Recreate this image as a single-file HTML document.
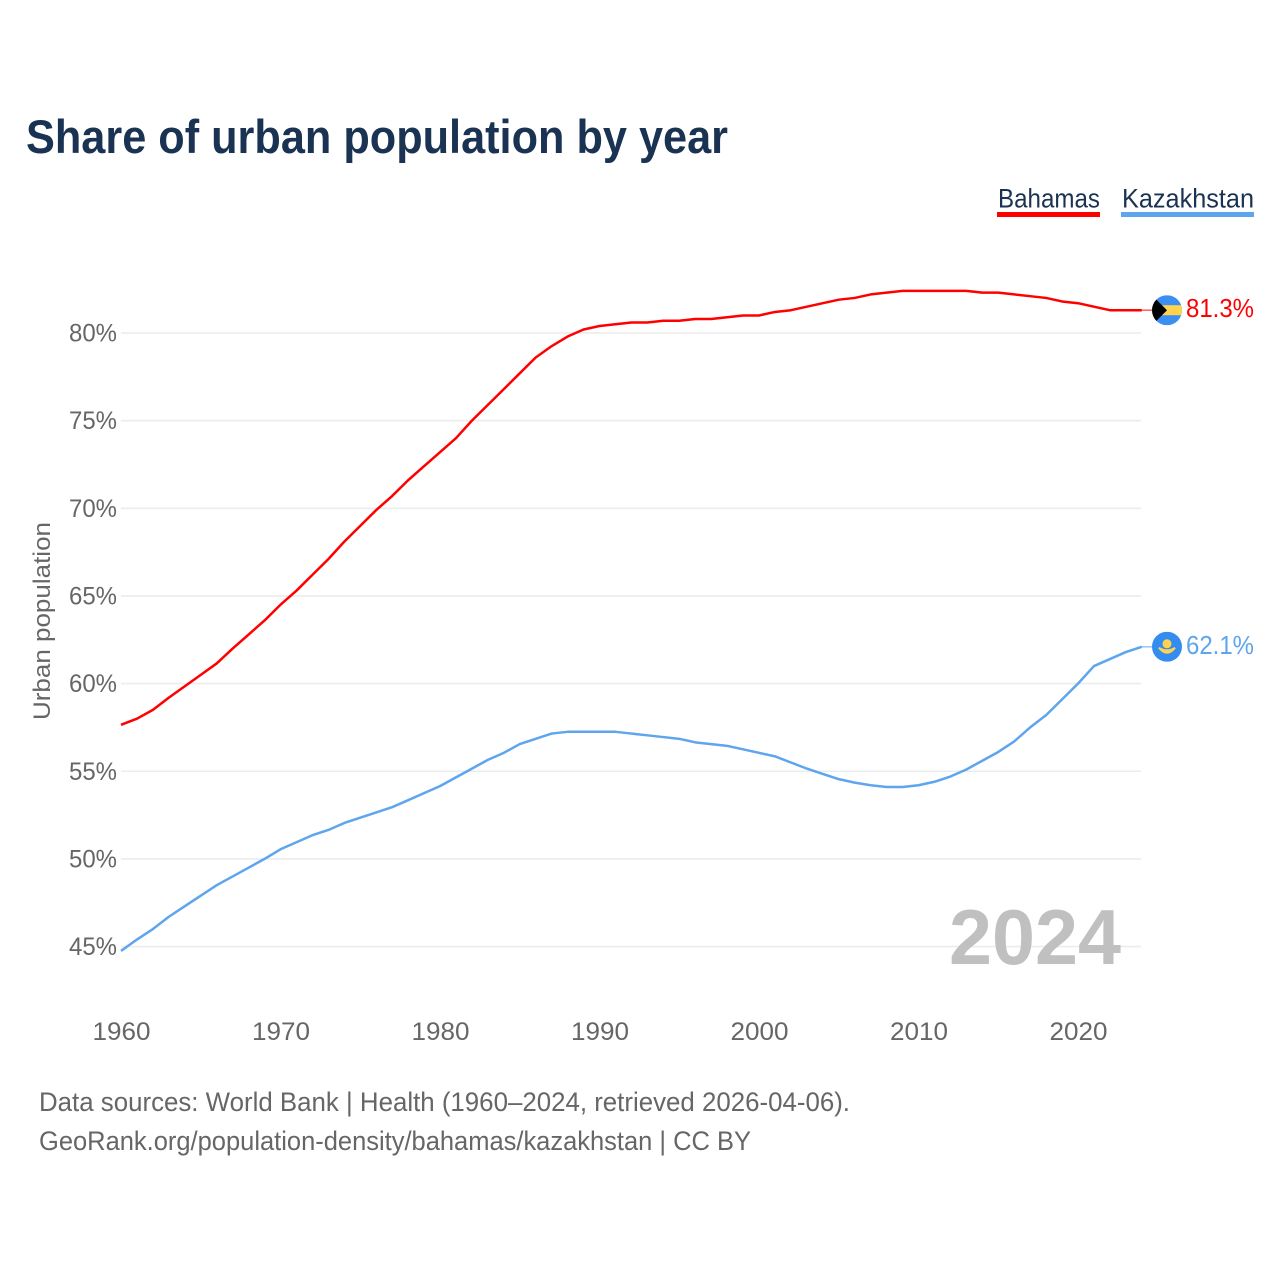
<!DOCTYPE html>
<html lang="en">
<head>
<meta charset="utf-8">
<title>Share of urban population by year</title>
<style>
html,body{margin:0;padding:0;background:#fff;width:1280px;height:1280px;overflow:hidden}
svg{display:block}
text{font-family:"Liberation Sans",sans-serif}
</style>
</head>
<body>
<svg id="chart" xmlns="http://www.w3.org/2000/svg" width="1280" height="1280" viewBox="0 0 1280 1280">
  <defs>
    <clipPath id="flag-clip"><circle cx="0" cy="0" r="15"/></clipPath>
  </defs>
  <rect x="0" y="0" width="1280" height="1280" fill="#fff"/>
  <text x="26" y="153" font-size="47" font-weight="700" fill="#1a3352" textLength="702" lengthAdjust="spacingAndGlyphs">Share of urban population by year</text>
  <g>
    <text x="998" y="207.5" font-size="27" fill="#1a3352" textLength="102" lengthAdjust="spacingAndGlyphs">Bahamas</text>
    <rect x="997" y="212" width="103" height="5" fill="#ff0000"/>
  </g>
  <g>
    <text x="1122" y="207.5" font-size="27" fill="#1a3352" textLength="132" lengthAdjust="spacingAndGlyphs">Kazakhstan</text>
    <rect x="1121" y="212" width="133" height="5" fill="#5ea5ee"/>
  </g>
  <g id="grid"></g>
  <g id="y-ticks"></g>
  <g id="x-ticks"></g>
  <text transform="translate(50,720) rotate(-90)" x="0" y="0" font-size="24" fill="#666" textLength="198" lengthAdjust="spacingAndGlyphs">Urban population</text>
  <text x="949" y="964" font-size="78" font-weight="700" fill="#c0c0c0" textLength="172" lengthAdjust="spacingAndGlyphs">2024</text>
  <g id="series"></g>
  <g id="end-bahamas">
    <g clip-path="url(#flag-clip)">
      <rect x="-15" y="-15" width="30" height="30" fill="#3a8ff0"/>
      <rect x="-15" y="-5" width="30" height="10" fill="#ffd34d"/>
      <polygon points="-15,-15 0,0 -15,15" fill="#000"/>
    </g>
  </g>
  <g id="end-kazakhstan">
    <g clip-path="url(#flag-clip)">
      <rect x="-15" y="-15" width="30" height="30" fill="#338cf0"/>
      <circle cx="0" cy="-3" r="4.5" fill="#ffd34d"/>
      <path d="M-8,1 Q0,11 8,1 Q0,6 -8,1 Z" fill="#ffd34d" stroke="#ffd34d" stroke-width="2"/>
    </g>
  </g>
  <text id="value-bahamas" x="1186" font-size="26" fill="#ff0000" textLength="68" lengthAdjust="spacingAndGlyphs"></text>
  <text id="value-kazakhstan" x="1186" font-size="26" fill="#5ea5ee" textLength="68" lengthAdjust="spacingAndGlyphs"></text>
  <text x="39" y="1111" font-size="27" fill="#666" textLength="811" lengthAdjust="spacingAndGlyphs">Data sources: World Bank | Health (1960–2024, retrieved 2026-04-06).</text>
  <text x="39" y="1150" font-size="27" fill="#666" textLength="712" lengthAdjust="spacingAndGlyphs">GeoRank.org/population-density/bahamas/kazakhstan | CC BY</text>
</svg>
<script>
const startYear = 1960;
const xTickYears = [1960, 1970, 1980, 1990, 2000, 2010, 2020];
const yTickValues = [45, 50, 55, 60, 65, 70, 75, 80];
const bahamasValues = [57.65,58.0,58.5,59.2,59.85,60.5,61.15,62.0,62.8,63.6,64.5,65.3,66.2,67.1,68.1,69.0,69.9,70.7,71.6,72.4,73.2,74.0,75.0,75.9,76.8,77.7,78.6,79.25,79.8,80.2,80.4,80.5,80.6,80.6,80.7,80.7,80.8,80.8,80.9,81.0,81.0,81.2,81.3,81.5,81.7,81.9,82.0,82.2,82.3,82.4,82.4,82.4,82.4,82.4,82.3,82.3,82.2,82.1,82.0,81.8,81.7,81.5,81.3,81.3,81.3];
const kazakhstanValues = [44.75,45.4,46.0,46.7,47.3,47.9,48.5,49.0,49.5,50.0,50.55,50.95,51.35,51.65,52.05,52.35,52.65,52.95,53.35,53.75,54.15,54.65,55.15,55.65,56.05,56.55,56.85,57.15,57.25,57.25,57.25,57.25,57.15,57.05,56.95,56.85,56.65,56.55,56.45,56.25,56.05,55.85,55.5,55.15,54.85,54.55,54.35,54.2,54.1,54.1,54.2,54.4,54.7,55.1,55.6,56.1,56.7,57.5,58.2,59.1,60.0,61.0,61.4,61.8,62.1];

const NS = 'http://www.w3.org/2000/svg';
function xScale(year) { return 121 + (year - 1960) * 15.95; }
function yScale(value) { return 333 + (80 - value) * 17.53; }
function make(tag, attrs) {
  const el = document.createElementNS(NS, tag);
  for (const k in attrs) el.setAttribute(k, attrs[k]);
  return el;
}

const gridGroup = document.getElementById('grid');
const yGroup = document.getElementById('y-ticks');
const xGroup = document.getElementById('x-ticks');
const seriesGroup = document.getElementById('series');

yTickValues.forEach(function (v) {
  const line = make('line', { x1: 121, x2: 1141, y1: yScale(v), y2: yScale(v), stroke: '#ececec', 'stroke-width': 1.6 });
  
  
  gridGroup.appendChild(line);
  const label = make('text', { x: 117, y: yScale(v) + 8.5, 'text-anchor': 'end', 'font-size': 25, fill: '#666', textLength: 48, lengthAdjust: 'spacingAndGlyphs' });
  
  
  label.textContent = v + '%';
  yGroup.appendChild(label);
});

xTickYears.forEach(function (year) {
  const label = make('text', { x: xScale(year) + 0.5, y: 1040, 'text-anchor': 'middle', 'font-size': 25, fill: '#666', textLength: 58, lengthAdjust: 'spacingAndGlyphs' });
  
  
  label.textContent = year;
  xGroup.appendChild(label);
});

function drawSeries(values, color, key) {
  const d = values.map(function (v, i) {
    return (i ? 'L' : 'M') + xScale(startYear + i).toFixed(2) + ',' + yScale(v).toFixed(2);
  }).join(' ');
  const path = make('path', { d: d, fill: 'none', stroke: color, 'stroke-width': 2.5, 'stroke-linejoin': 'round' });
  
  
  seriesGroup.appendChild(path);
  const last = values[values.length - 1];
  const lastX = xScale(startYear + values.length - 1);
  const lastY = yScale(last);
  const stub = make('line', { x1: lastX, x2: 1153, y1: lastY, y2: lastY, stroke: color, 'stroke-width': 1.6, opacity: 0.6 });
  
  
  seriesGroup.appendChild(stub);
  document.getElementById('end-' + key).setAttribute('transform', 'translate(1167,' + lastY.toFixed(2) + ')');
  const val = document.getElementById('value-' + key);
  val.setAttribute('y', (lastY + 7).toFixed(2));
  val.textContent = last.toFixed(1) + '%';
}

drawSeries(bahamasValues, '#ff0000', 'bahamas');
drawSeries(kazakhstanValues, '#5ea5ee', 'kazakhstan');
</script>
</body>
</html>
